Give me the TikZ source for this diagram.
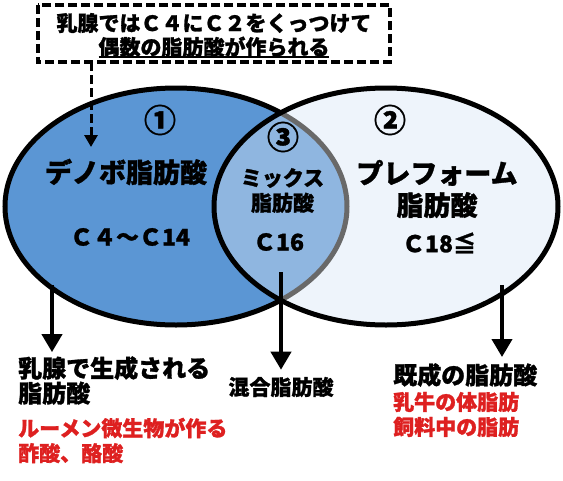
\documentclass[tikz,border=0pt]{standalone}
\usepackage{fontspec}
\setmainfont{Noto Sans CJK JP}[BoldFeatures={FakeBold=1.2}]
\usetikzlibrary{arrows.meta}
\definecolor{denovo-blue}{RGB}{91,150,212}
\definecolor{mix-blue}{RGB}{143,182,224}
\definecolor{preform-pale}{RGB}{238,244,251}
\definecolor{rim-gray}{RGB}{105,105,105}
\definecolor{note-red}{RGB}{222,32,32}
\newcommand{\noteline}[1]{\setbox0\hbox{#1}\rlap{\rule[-3pt]{\wd0}{2pt}}\box0}
\tikzset{
    denovo-size/.style = {x radius=171pt, y radius=118.5pt},
    preform-size/.style = {x radius=172pt, y radius=118.5pt},
    venn-rim/.style = {line width=5pt},
    note-box/.style = {minimum width=352pt, minimum height=57pt, align=center, font=\bfseries\fontsize{21pt}{24pt}\selectfont},
    note-rim/.style = {line width=3.5pt, dash pattern=on 9pt off 4pt},
    lead-arrow/.style = {line width=3pt, dash pattern=on 9pt off 4pt, -{Triangle[width=13pt,length=12pt]}},
    down-arrow/.style = {line width=4pt, -{Triangle[width=20pt,length=18pt]}},
    circ-num/.style = {font=\bfseries\fontsize{32pt}{32pt}\selectfont},
    kind-big/.style = {align=center, font=\bfseries\fontsize{27pt}{32pt}\selectfont},
    kind-small/.style = {align=center, font=\bfseries\fontsize{21pt}{25pt}\selectfont},
    chain/.style = {font=\bfseries\fontsize{23pt}{23pt}\selectfont},
    result/.style = {align=left, inner sep=4pt, font=\bfseries\fontsize{24pt}{25pt}\selectfont},
    result-mid/.style = {inner sep=4pt, font=\bfseries\fontsize{21pt}{25pt}\selectfont},
    result-note/.style = {align=left, inner sep=4pt, text=note-red, font=\bfseries\fontsize{21pt}{25pt}\selectfont},
}
\begin{document}
\begin{tikzpicture}[x=1pt, y=-1pt]
\path[use as bounding box, fill=white] (0,0) rectangle (563,480);

\coordinate (denovo-c) at (176,206.5);
\coordinate (preform-c) at (386,206.5);
\fill[denovo-blue] (denovo-c) ellipse [denovo-size];
\draw[venn-rim] (denovo-c) ellipse [denovo-size];
\fill[preform-pale] (preform-c) ellipse [preform-size];
\begin{scope}
    \clip (preform-c) ellipse [preform-size];
    \fill[mix-blue] (denovo-c) ellipse [denovo-size];
    \draw[venn-rim, rim-gray] (denovo-c) ellipse [denovo-size];
\end{scope}
\draw[venn-rim] (preform-c) ellipse [preform-size];

\node[note-box] (note) at (214,35.5) {乳腺ではＣ４にＣ２をくっつけて\\\noteline{偶数の脂肪酸が作られる}};
\draw[note-rim] ([yshift=2pt]note.north west) rectangle ([yshift=2pt]note.south east);
\coordinate (denovo-in) at (91,147);
\draw[lead-arrow] ([yshift=2pt]note.south -| denovo-in) -- (denovo-in);

\node[circ-num] (num1) at (160,120) {①};
\node[circ-num] (num2) at (390,120) {②};
\node[circ-num] (num3) at (283,137) {③};

\node[kind-big] (denovo) at (126,172) {デノボ脂肪酸};
\node[kind-small] (mix) at (282.5,190.5) {ミックス\\脂肪酸};
\node[kind-big] (preform) at (437,189) {プレフォーム\\脂肪酸};

\node[chain] (denovo-c-range) at (130,237) {Ｃ４～Ｃ14};
\node[chain] (mix-c-range) at (278.5,242) {Ｃ16};
\node[chain] (preform-c-range) at (439,243) {Ｃ18≦};

\node[result, anchor=west] (made) at (14,380.5) {乳腺で生成される\\脂肪酸};
\node[result-note, anchor=west] (made-note) at (14,440.5) {ルーメン微生物が作る\\酢酸、酪酸};
\node[result-mid] (mixed) at (281,387) {混合脂肪酸};
\node[result, anchor=west] (ready) at (389,375) {既成の脂肪酸};
\node[result-note, anchor=west] (ready-note) at (389,414.5) {乳牛の体脂肪\\飼料中の脂肪};

\coordinate (denovo-out) at (52,285);
\coordinate (mix-out) at (281,272);
\coordinate (preform-out) at (502,285);
\draw[down-arrow] (denovo-out) -- (denovo-out |- made.north);
\draw[down-arrow, shorten >=3pt] (mix-out) -- (mix-out |- mixed.north);
\draw[down-arrow, shorten >=2pt] (preform-out) -- (preform-out |- ready.north);
\end{tikzpicture}
\end{document}
